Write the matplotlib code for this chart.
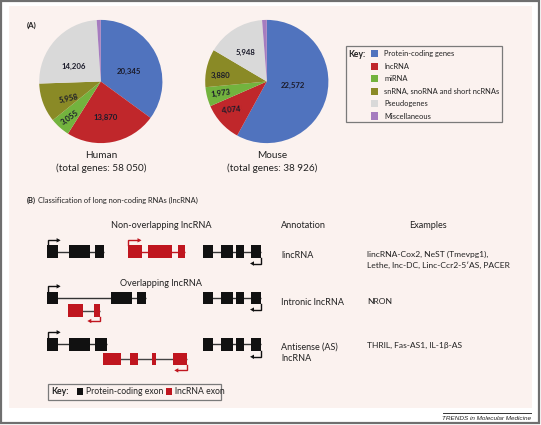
import matplotlib
matplotlib.use("Agg")
import matplotlib.pyplot as plt
from matplotlib.patches import Rectangle, Polygon

plt.rcParams['font.family'] = ['Lato', 'DejaVu Sans']

# ---------------- data ----------------
categories = ["Protein-coding genes", "lncRNA", "miRNA",
              "snRNA, snoRNA and short ncRNAs", "Pseudogenes", "Miscellaneous"]
human_values = [20345, 13870, 3055, 5958, 14206, 616]
mouse_values = [22572, 4074, 1973, 3880, 5948, 479]
human_total = 58050
mouse_total = 38926
colors = ["#5073be", "#c0272b", "#73b33e", "#8a8a26", "#d9d9d9", "#a57cbf"]

classes = ["lincRNA", "Intronic lncRNA", "Antisense (AS)\nlncRNA"]
examples = ["lincRNA-Cox2, NeST (Tmevpg1),\nLethe, lnc-DC, Linc-Ccr2-5\u2032AS, PACER",
            "NRON",
            "THRIL, Fas-AS1, IL-1\u03b2-AS"]

W, H = 541, 425
fig = plt.figure(figsize=(W / 100, H / 100), dpi=100)
fig.patch.set_facecolor("white")

# background axes
bg = fig.add_axes([0, 0, 1, 1], zorder=0)
bg.set_xlim(0, W)
bg.set_ylim(H, 0)
bg.axis("off")
bg.add_patch(Rectangle((0.5, 0.5), W - 2.5, H - 2.5, fill=False, ec="#6f6f6f", lw=1.6))
bg.add_patch(Rectangle((9, 6), 523, 402, fc="#fbf2ef", ec="none"))

# foreground axes (transparent)
ax = fig.add_axes([0, 0, 1, 1], zorder=2)
ax.set_xlim(0, W)
ax.set_ylim(H, 0)
ax.axis("off")
ax.patch.set_alpha(0)

TXT = "#222222"

# ---------------- pies ----------------
def pie_axes(cx, cy, r):
    a = fig.add_axes([(cx - r) / W, (H - cy - r) / H, 2 * r / W, 2 * r / H], zorder=1)
    return a

for vals, cx in ((human_values, 100.8), (mouse_values, 266.8)):
    pa = pie_axes(cx, 81.5, 61.6)
    pa.pie(vals, colors=colors, startangle=90, counterclock=False, radius=1,
           wedgeprops=dict(linewidth=0))
    pa.set_xlim(-1, 1)
    pa.set_ylim(-1, 1)
    pa.axis("off")

# slice value labels (positions)
human_lab_pos = [(128.5, 71.5, 0), (106, 117.5, 0), (69.5, 117, 35), (68.5, 98, 12),
                 (73.5, 66, 0)]
mouse_lab_pos = [(292.5, 85.5, 0), (231.5, 109.5, 5), (220.5, 93.5, 8),
                 (220.5, 75.5, 0), (245.5, 52.5, 0)]
for vals, poss in ((human_values, human_lab_pos), (mouse_values, mouse_lab_pos)):
    for v, (x, y, rot) in zip(vals, poss):
        ax.text(x, y, f"{v:,}", ha="center", va="center", fontsize=5.6,
                fontweight="bold", color="#1b1b2a", rotation=rot)

ax.text(101.5, 156, "Human", ha="center", va="center", fontsize=7.2, color=TXT)
ax.text(101.5, 168, f"(total genes: {human_total:,})".replace(",", " "),
        ha="center", va="center", fontsize=7.2, color=TXT)
ax.text(272, 156, "Mouse", ha="center", va="center", fontsize=7.2, color=TXT)
ax.text(272, 168, f"(total genes: {mouse_total:,})".replace(",", " "),
        ha="center", va="center", fontsize=7.2, color=TXT)

ax.text(27, 25, "(A)", ha="left", va="center", fontsize=5.8, fontweight="bold", color=TXT)

# legend key box
ax.add_patch(Rectangle((345.8, 46), 156.5, 75.5, fill=False, ec="#7a7a7a", lw=0.9))
ax.text(348.5, 54, "Key:", ha="left", va="center", fontsize=6.2, fontweight="bold", color=TXT)
for i, (cat, col) in enumerate(zip(categories, colors)):
    y = 53.8 + i * 12.45
    ax.add_patch(Rectangle((370.8, y - 3.6), 7, 7.2, fc=col, ec="none"))
    ax.text(384.5, y, cat, ha="left", va="center", fontsize=5.4, color=TXT)

# ---------------- panel B ----------------
ax.text(27, 200, "(B)", ha="left", va="center", fontsize=5.4, fontweight="bold", color=TXT)
ax.text(38.5, 200, "Classification of long non-coding RNAs (lncRNA)", ha="left",
        va="center", fontsize=5.4, color=TXT)
ax.text(161.5, 225.8, "Non-overlapping lncRNA", ha="center", va="center", fontsize=6.6, color=TXT)
ax.text(281.2, 225.8, "Annotation", ha="left", va="center", fontsize=6.6, color=TXT)
ax.text(428, 225.8, "Examples", ha="center", va="center", fontsize=6.6, color=TXT)
ax.text(161.3, 284, "Overlapping lncRNA", ha="center", va="center", fontsize=6.6, color=TXT)

BLACK = "#111111"
RED = "#c0161f"
EH = 12.6


def gene(exons, yc, col, line_col):
    x0, x1 = exons[0][0], exons[-1][1]
    ax.plot([x0, x1], [yc, yc], color=line_col, lw=1.0, solid_capstyle="butt", zorder=2)
    for a, b in exons:
        ax.add_patch(Rectangle((a, yc - EH / 2), b - a, EH, fc=col, ec="none", zorder=3))


def arrow_right(x, ytop, yarr, xtip, col):
    ax.plot([x, x, xtip - 3], [ytop, yarr, yarr], color=col, lw=1.0, zorder=4,
            solid_joinstyle="miter")
    ax.add_patch(Polygon([(xtip - 4, yarr - 2.2), (xtip, yarr), (xtip - 4, yarr + 2.2)],
                         closed=True, fc=col, ec="none", zorder=4))


def arrow_left(x, ybot, yarr, xtip, col):
    ax.plot([x, x, xtip + 3], [ybot, yarr, yarr], color=col, lw=1.0, zorder=4,
            solid_joinstyle="miter")
    ax.add_patch(Polygon([(xtip + 4, yarr - 2.2), (xtip, yarr), (xtip + 4, yarr + 2.2)],
                         closed=True, fc=col, ec="none", zorder=4))


right_gene = [(202.6, 212.9), (220.8, 232.9), (236.4, 244.0), (250.9, 261.2)]

# row 1: lincRNA
y1 = 251.7
gene([(47.3, 57.6), (69.0, 90.4), (95.2, 103.5)], y1, BLACK, "#333333")
arrow_right(47.8, y1 - EH / 2, 240.3, 60.6, BLACK)
gene([(127.7, 142.0), (147.9, 172.0), (178.4, 184.6)], y1, RED, RED)
arrow_right(128.2, y1 - EH / 2, 240.3, 141.5, RED)
gene(right_gene, y1, BLACK, "#333333")
arrow_left(260.7, y1 + EH / 2, 263.5, 250.0, BLACK)

# row 2: intronic
y2 = 297.8
gene([(47.3, 57.6), (111.1, 132.2), (137.3, 145.6)], y2, BLACK, "#333333")
arrow_right(47.8, y2 - EH / 2, 286.3, 60.6, BLACK)
gene(right_gene, y2, BLACK, "#333333")
arrow_left(260.7, y2 + EH / 2, 309.6, 250.0, BLACK)
y2r = 310.5
gene([(68.3, 82.8), (93.9, 100.1)], y2r, RED, "#444444")
arrow_left(99.6, y2r + EH / 2, 321.0, 87.3, RED)

# row 3: antisense
y3 = 344.3
gene([(47.3, 57.6), (69.0, 90.4), (95.2, 107.0)], y3, BLACK, "#333333")
arrow_right(47.8, y3 - EH / 2, 332.3, 60.6, BLACK)
gene(right_gene, y3, BLACK, "#333333")
arrow_left(260.7, y3 + EH / 2, 356.8, 250.0, BLACK)
y3r = 359.0
gene([(102.8, 120.8), (130.1, 138.0), (151.8, 156.0), (172.5, 187.4)], y3r, RED, "#444444")
arrow_left(186.9, y3r + EH / 2, 370.4, 174.3, RED)

# annotation + examples
for cls, ex, y in zip(classes, examples, (250.5, 297.7, 342.2)):
    ax.text(281.2, y, cls, ha="left", va="top", fontsize=6.5, color=TXT,
            linespacing=1.45)
    ax.text(366.8, y, ex, ha="left", va="top", fontsize=6.1, color=TXT,
            linespacing=1.55)

# bottom key
ax.add_patch(Rectangle((48.3, 384.3), 172.5, 15.4, fc="none", ec="#7a7a7a", lw=0.9))
ax.text(51, 391.8, "Key:", ha="left", va="center", fontsize=6.3, fontweight="bold", color=TXT)
ax.add_patch(Rectangle((76.7, 388.4), 6.5, 6.8, fc=BLACK, ec="none"))
ax.text(86.2, 391.8, "Protein-coding exon", ha="left", va="center", fontsize=6.2, color=TXT)
ax.add_patch(Rectangle((165.6, 388.4), 6.8, 6.8, fc=RED, ec="none"))
ax.text(175.3, 391.8, "lncRNA exon", ha="left", va="center", fontsize=6.2, color=TXT)

# footer
ax.plot([443.4, 531.4], [413.2, 413.2], color="#333333", lw=0.7)
ax.text(531, 418, "TRENDS in Molecular Medicine", ha="right", va="center",
        fontsize=4.6, style="italic", color="#222222", family="Liberation Sans")

fig.savefig("out.png", dpi=100, facecolor="white")
